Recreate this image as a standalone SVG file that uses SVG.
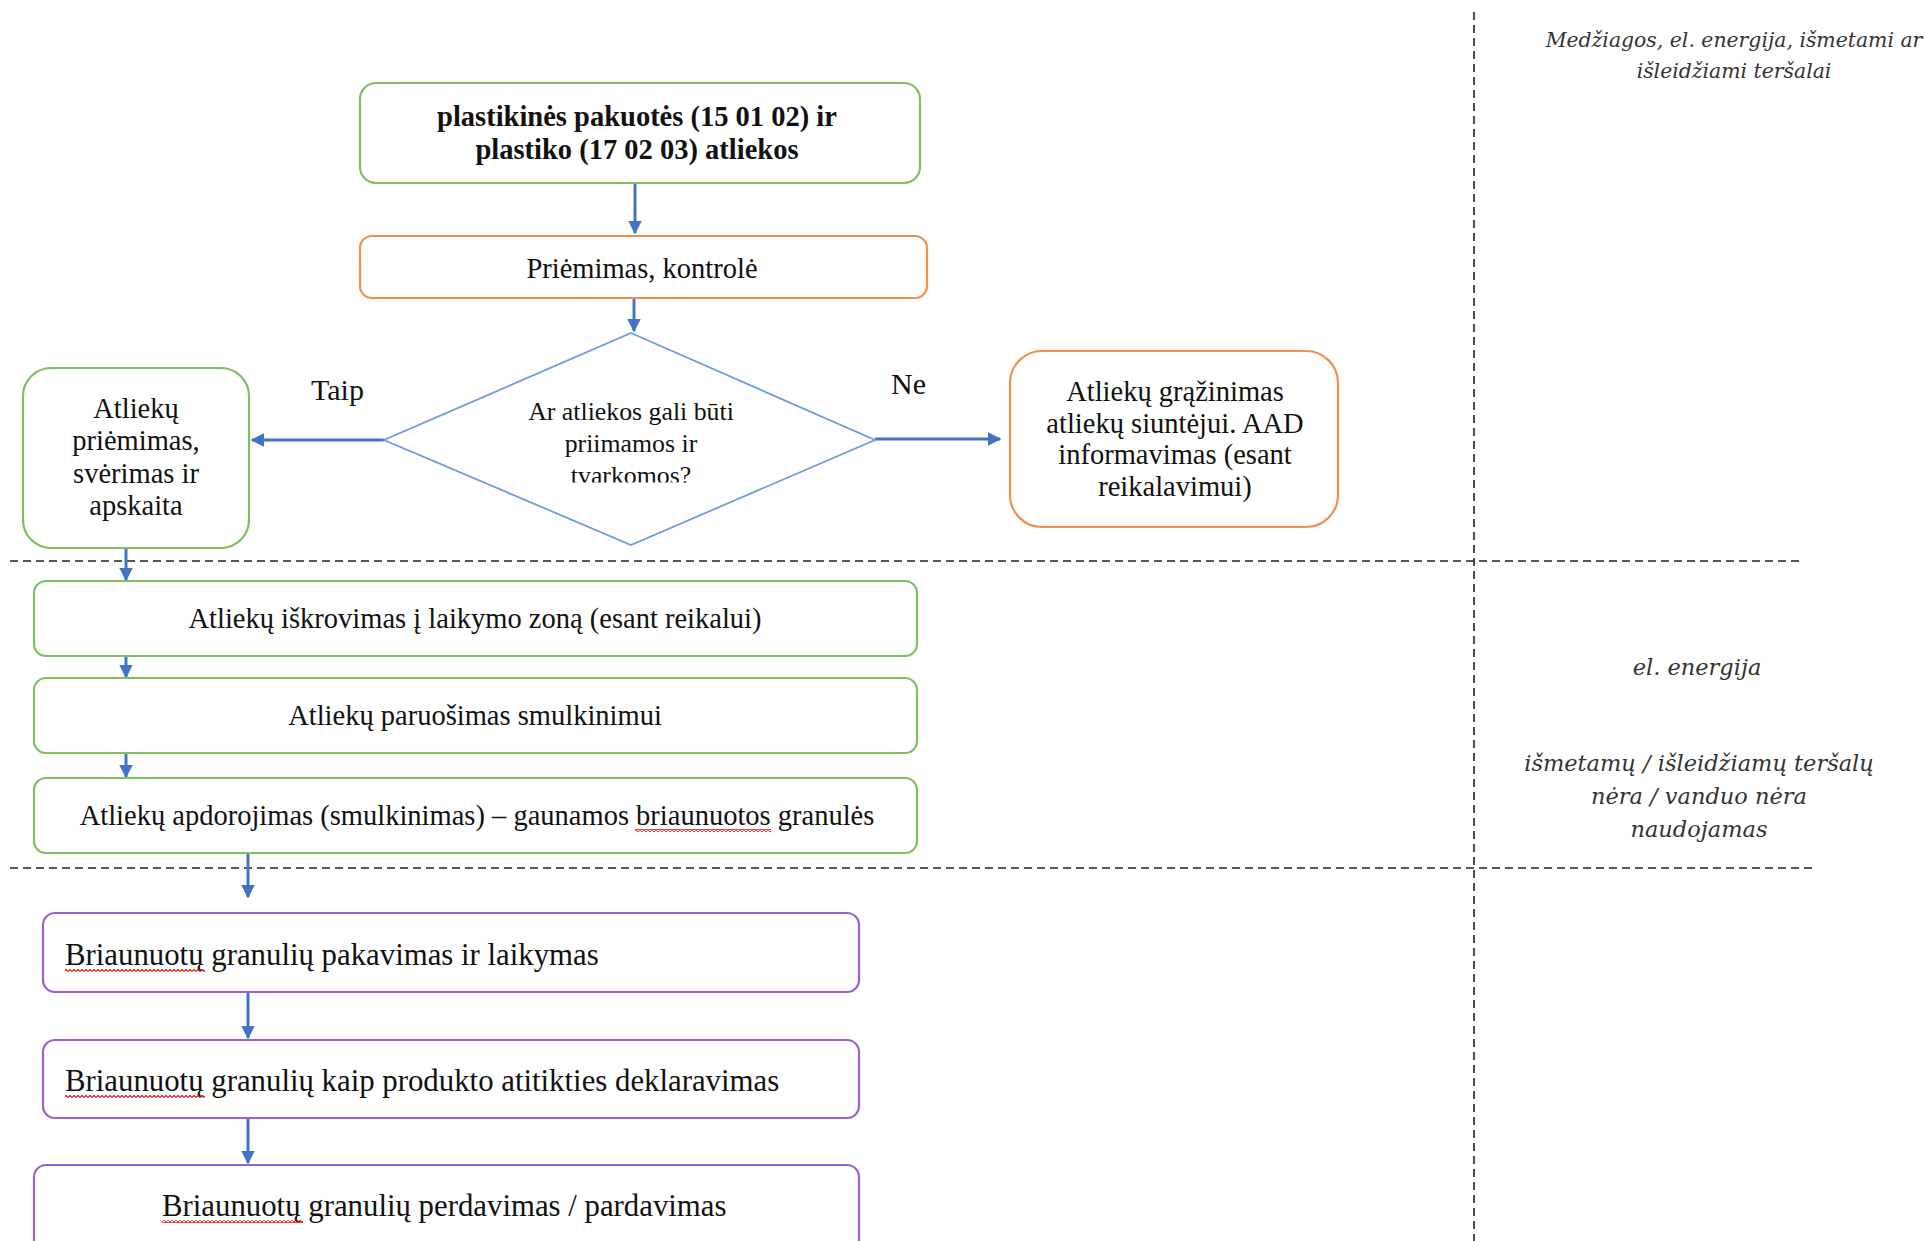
<svg xmlns="http://www.w3.org/2000/svg" width="1925" height="1241" viewBox="0 0 1925 1241">
<style>
  .t{font-family:"Liberation Serif","Times New Roman",serif;font-size:28.5px;fill:#111;}
  .pt{font-size:30.8px;}
  .b{font-weight:bold;}
  .c{text-anchor:middle;}
  .it{font-family:"DejaVu Serif",serif;font-style:italic;font-size:20.4px;fill:#333;text-anchor:middle;}
  .it2{font-size:22.5px;}
  .g{fill:#fff;stroke:#7fbf5e;stroke-width:2.2;}
  .o{fill:#fff;stroke:#f0904a;stroke-width:2.2;}
  .p{fill:#fff;stroke:#9a5fd0;stroke-width:2.2;}
  .dia{fill:#fff;stroke:#6b9be0;stroke-width:1.8;}
  .ar{fill:none;stroke:#4472c4;stroke-width:3;marker-end:url(#ah);}
  .dash{fill:none;stroke:#222;stroke-width:1.6;stroke-dasharray:8 5;}
</style>
<defs>
  <marker id="ah" viewBox="0 0 10 10" refX="9" refY="5" markerWidth="4.5" markerHeight="4.5" orient="auto" markerUnits="strokeWidth">
    <path d="M0,0 L10,5 L0,10 z" fill="#4472c4"/>
  </marker>
  <pattern id="sq" width="4" height="3" patternUnits="userSpaceOnUse">
    <path d="M0,2.6 L2,0.4 L4,2.6" fill="none" stroke="#e01818" stroke-width="1.2"/>
  </pattern>
  <clipPath id="dclip"><rect x="500" y="380" width="270" height="102.5"/></clipPath>
</defs>

<g id="separators">
  <line class="dash" x1="1474" y1="12" x2="1474" y2="1241"/>
  <line class="dash" x1="10" y1="561" x2="1801" y2="561"/>
  <line class="dash" x1="10" y1="868" x2="1815" y2="868"/>
</g>

<g id="connectors">
  <line class="ar" x1="635" y1="183" x2="635" y2="233"/>
  <line class="ar" x1="634" y1="298" x2="634" y2="331"/>
  <line class="ar" x1="384" y1="440" x2="252" y2="440"/>
  <line class="ar" x1="875" y1="439" x2="1000" y2="439"/>
  <line class="ar" x1="126" y1="548" x2="126" y2="580"/>
  <line class="ar" x1="126" y1="656" x2="126" y2="677"/>
  <line class="ar" x1="126" y1="753" x2="126" y2="777"/>
  <line class="ar" x1="248" y1="853" x2="248" y2="897"/>
  <line class="ar" x1="248" y1="992" x2="248" y2="1038"/>
  <line class="ar" x1="248" y1="1118" x2="248" y2="1163"/>
  <text class="t" style="font-size:30px" x="311" y="400">Taip</text>
  <text class="t" style="font-size:30px" x="891" y="394">Ne</text>
</g>

<g id="n-input">
  <rect class="g" x="360" y="83" width="560" height="100" rx="16"/>
  <text class="t b c" x="637" y="126">plastikinės pakuotės (15 01 02) ir</text>
  <text class="t b c" x="637" y="159">plastiko (17 02 03) atliekos</text>
</g>

<g id="n-priemimas">
  <rect class="o" x="360" y="236" width="567" height="62" rx="12"/>
  <text class="t c" x="642" y="278">Priėmimas, kontrolė</text>
</g>

<g id="n-decision">
  <polygon class="dia" points="631,333 875,440 631,545 384,440"/>
  <g clip-path="url(#dclip)">
    <text class="t c" style="font-size:25.8px" x="631" y="420">Ar atliekos gali būti</text>
    <text class="t c" style="font-size:25.8px" x="631" y="452">priimamos ir</text>
    <text class="t c" style="font-size:25.8px" x="631" y="484">tvarkomos?</text>
  </g>
</g>

<g id="n-accept">
  <rect class="g" x="23" y="368" width="226" height="180" rx="28"/>
  <text class="t c" x="136" y="418">Atliekų</text>
  <text class="t c" x="136" y="450">priėmimas,</text>
  <text class="t c" x="136" y="483">svėrimas ir</text>
  <text class="t c" x="136" y="515">apskaita</text>
</g>

<g id="n-return">
  <rect class="o" x="1010" y="351" width="328" height="176" rx="32"/>
  <text class="t c" x="1175" y="401">Atliekų grąžinimas</text>
  <text class="t c" x="1175" y="433">atliekų siuntėjui. AAD</text>
  <text class="t c" x="1175" y="464">informavimas (esant</text>
  <text class="t c" x="1175" y="496">reikalavimui)</text>
</g>

<g id="n-iskrovimas">
  <rect class="g" x="34" y="581" width="883" height="75" rx="12"/>
  <text class="t c" x="475" y="628">Atliekų iškrovimas į laikymo zoną (esant reikalui)</text>
</g>

<g id="n-paruosimas">
  <rect class="g" x="34" y="678" width="883" height="75" rx="12"/>
  <text class="t c" x="475" y="725">Atliekų paruošimas smulkinimui</text>
</g>

<g id="n-apdorojimas">
  <rect class="g" x="34" y="778" width="883" height="75" rx="12"/>
  <text class="t c" x="477" y="825">Atliekų apdorojimas (smulkinimas) – gaunamos briaunuotos granulės</text>
  <rect x="635" y="829" width="136" height="3" fill="url(#sq)"/>
</g>

<g id="n-pakavimas">
  <rect class="p" x="43" y="913" width="816" height="79" rx="12"/>
  <text class="t pt" x="65" y="965">Briaunuotų granulių pakavimas ir laikymas</text>
  <rect x="65" y="969" width="140" height="3" fill="url(#sq)"/>
</g>

<g id="n-deklaravimas">
  <rect class="p" x="43" y="1040" width="816" height="78" rx="12"/>
  <text class="t pt" x="65" y="1091">Briaunuotų granulių kaip produkto atitikties deklaravimas</text>
  <rect x="65" y="1095" width="140" height="3" fill="url(#sq)"/>
</g>

<g id="n-perdavimas">
  <rect class="p" x="34" y="1165" width="825" height="100" rx="12"/>
  <text class="t pt" x="162" y="1216">Briaunuotų granulių perdavimas / pardavimas</text>
  <rect x="162" y="1220" width="141" height="3" fill="url(#sq)"/>
</g>

<g id="side-notes">
  <text class="it" x="1734" y="47">Medžiagos, el. energija, išmetami ar</text>
  <text class="it" x="1734" y="78">išleidžiami teršalai</text>
  <text class="it it2" x="1697" y="675">el. energija</text>
  <text class="it it2" x="1699" y="771">išmetamų / išleidžiamų teršalų</text>
  <text class="it it2" x="1699" y="804">nėra / vanduo nėra</text>
  <text class="it it2" x="1699" y="837">naudojamas</text>
</g>
</svg>
